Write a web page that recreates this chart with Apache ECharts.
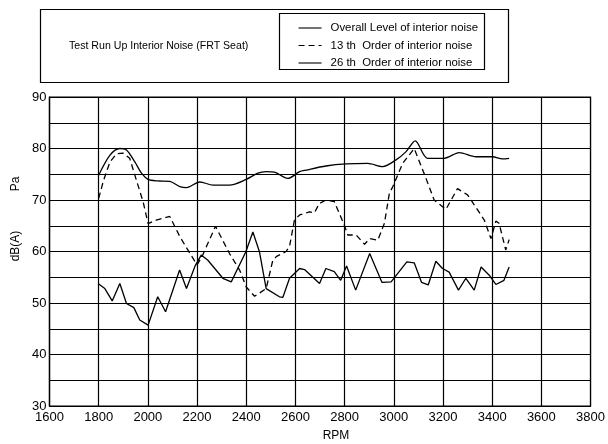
<!DOCTYPE html>
<html>
<head>
<meta charset="utf-8">
<title>Test Run Up Interior Noise</title>
<script src="https://cdn.jsdelivr.net/npm/echarts@6/dist/echarts.min.js"></script>
<style>
  html, body { margin: 0; padding: 0; background: #fff; }
  #chart { width: 608px; height: 444px; }
</style>
</head>
<body>
<div id="chart"></div>
<script>
// Engine speed (RPM) and level (dB(A)) for each trace
var overallRpm = [1800, 1846, 1886, 1913, 1947, 1974, 2001, 2040, 2089, 2130, 2157, 2211, 2265, 2332, 2400, 2447, 2481, 2515, 2569, 2617, 2643, 2724, 2806, 2894, 2955, 3009, 3050, 3087, 3137, 3205, 3266, 3334, 3401, 3442, 3469];
var overallDb  = [74.8, 78.7, 80.0, 79.7, 77.4, 75.2, 74.0, 73.7, 73.6, 72.6, 72.4, 73.5, 72.9, 72.9, 74.0, 75.2, 75.5, 75.4, 74.2, 75.5, 75.8, 76.6, 77.0, 77.1, 76.5, 77.8, 79.4, 81.5, 78.1, 78.1, 79.2, 78.4, 78.4, 78.0, 78.1];

var order13Rpm = [1800, 1819, 1846, 1873, 1899, 1926, 1953, 1981, 2001, 2034, 2089, 2130, 2160, 2200, 2220, 2275, 2332, 2373, 2400, 2434, 2481, 2508, 2522, 2562, 2576, 2596, 2617, 2657, 2677, 2697, 2724, 2758, 2799, 2813, 2847, 2881, 2902, 2935, 2962, 2982, 2996, 3036, 3083, 3131, 3164, 3212, 3259, 3300, 3368, 3395, 3415, 3428, 3455, 3469];
var order13Db  = [70.3, 73.7, 77.4, 79.0, 79.1, 78.1, 73.9, 69.6, 65.4, 66.1, 66.8, 62.9, 60.5, 57.4, 59.0, 64.9, 59.6, 56.4, 53.1, 51.3, 52.8, 58.3, 59.0, 60.0, 61.0, 66.1, 67.1, 67.7, 67.5, 69.3, 70.0, 69.7, 65.1, 63.2, 63.2, 61.4, 62.5, 62.2, 65.5, 71.3, 72.6, 77.1, 80.0, 74.2, 70.0, 68.2, 72.2, 71.0, 66.1, 62.5, 65.9, 65.5, 60.3, 62.3];

var order26Rpm = [1800, 1825, 1855, 1886, 1913, 1943, 1967, 2001, 2040, 2072, 2129, 2157, 2192, 2217, 2244, 2305, 2339, 2398, 2427, 2454, 2481, 2535, 2549, 2576, 2617, 2637, 2698, 2724, 2758, 2784, 2808, 2845, 2902, 2952, 2989, 3053, 3083, 3113, 3140, 3171, 3198, 3225, 3263, 3293, 3327, 3355, 3388, 3415, 3448, 3469];
var order26Db  = [53.7, 52.8, 50.4, 53.8, 49.9, 49.1, 46.7, 45.7, 51.2, 48.3, 56.4, 52.8, 57.2, 59.3, 58.3, 54.8, 54.1, 59.9, 63.8, 59.9, 52.8, 51.2, 51.1, 54.8, 56.7, 56.5, 53.8, 56.7, 56.1, 54.4, 57.2, 52.5, 59.6, 54.0, 54.1, 58.0, 57.8, 54.0, 53.5, 58.1, 56.7, 56.0, 52.5, 54.8, 52.5, 57.0, 55.4, 53.6, 54.4, 57.0];

var seriesNames = ['Overall Level of interior noise', '13 th  Order of interior noise', '26 th  Order of interior noise'];
var chartTitle = 'Test Run Up Interior Noise (FRT Seat)';

function pairs(xs, ys) {
  return xs.map(function (x, i) { return [x, ys[i]]; });
}

var font = '"Liberation Sans", Arial, Helvetica, sans-serif';
var ink = '#000';

var chart = echarts.init(document.getElementById('chart'), null, { renderer: 'canvas' });

chart.setOption({
  backgroundColor: '#fff',
  animation: false,
  textStyle: { fontFamily: font, color: ink },
  title: {
    text: chartTitle,
    left: 64,
    top: 36,
    textStyle: { fontFamily: font, fontSize: 10.6, fontWeight: 'normal', color: ink }
  },
  legend: {
    orient: 'vertical',
    left: 293,
    top: 17.5,
    itemWidth: 23,
    itemHeight: 11,
    itemGap: 6.5,
    data: seriesNames,
    itemStyle: { opacity: 0 },
    lineStyle: { width: 1.1 },
    textStyle: { fontFamily: font, fontSize: 11.4, color: ink, padding: [0, 0, 0, 4] },
    selectedMode: false
  },
  graphic: [
    {
      type: 'rect',
      shape: { x: 40.5, y: 9.5, width: 468, height: 73 },
      style: { fill: 'none', stroke: ink, lineWidth: 1.2 },
      silent: true
    },
    {
      type: 'rect',
      shape: { x: 279.5, y: 13.5, width: 205, height: 56 },
      style: { fill: 'none', stroke: ink, lineWidth: 1.2 },
      silent: true
    },
    {
      type: 'text',
      x: 16, y: 184,
      rotation: Math.PI / 2,
      style: { text: 'Pa', fontFamily: font, fontSize: 12, fill: ink, align: 'center', verticalAlign: 'middle' },
      silent: true
    },
    {
      type: 'text',
      x: 16, y: 246,
      rotation: Math.PI / 2,
      style: { text: 'dB(A)', fontFamily: font, fontSize: 12, fill: ink, align: 'center', verticalAlign: 'middle' },
      silent: true
    },
    {
      type: 'text',
      x: 336, y: 436,
      style: { text: 'RPM', fontFamily: font, fontSize: 12, fill: ink, align: 'center', verticalAlign: 'middle' },
      silent: true
    }
  ],
  grid: { left: 49.5, top: 97, width: 542, height: 309, containLabel: false, show: true, borderColor: ink, borderWidth: 1.2 },
  xAxis: {
    type: 'value',
    min: 1600,
    max: 3800,
    interval: 200,
    axisLine: { show: true, lineStyle: { color: ink, width: 1.2 } },
    axisTick: { show: false },
    axisLabel: { fontFamily: font, fontSize: 13, color: ink, margin: 5, formatter: function (v) { return String(v); } },
    splitLine: { show: true, lineStyle: { color: ink, width: 1.2 } }
  },
  yAxis: {
    type: 'value',
    min: 30,
    max: 90,
    interval: 5,
    axisLine: { show: true, lineStyle: { color: ink, width: 1.2 } },
    axisTick: { show: false },
    axisLabel: {
      fontFamily: font, fontSize: 13, color: ink, margin: 3,
      formatter: function (v) { return v % 10 === 0 ? String(v) : ''; }
    },
    splitLine: { show: true, lineStyle: { color: ink, width: 1.2 } }
  },
  series: [
    {
      name: seriesNames[0],
      type: 'line',
      data: pairs(overallRpm, overallDb),
      symbol: 'none',
      smooth: 0.3,
      lineStyle: { color: ink, width: 1.3 },
      itemStyle: { color: ink }
    },
    {
      name: seriesNames[1],
      type: 'line',
      data: pairs(order13Rpm, order13Db),
      symbol: 'none',
      lineStyle: { color: ink, width: 1.3, type: [6, 4] },
      itemStyle: { color: ink }
    },
    {
      name: seriesNames[2],
      type: 'line',
      data: pairs(order26Rpm, order26Db),
      symbol: 'none',
      lineStyle: { color: ink, width: 1.3 },
      itemStyle: { color: ink }
    }
  ]
});
</script>
</body>
</html>
